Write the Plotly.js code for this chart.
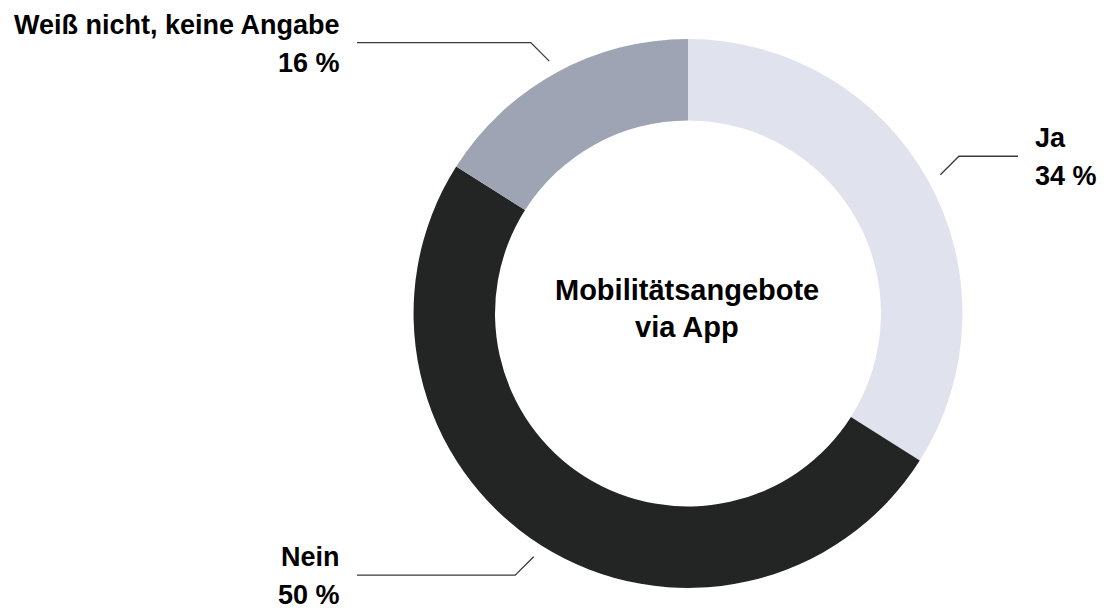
<!DOCTYPE html>
<html>
<head>
<meta charset="utf-8">
<script src="https://cdn.plot.ly/plotly-3.0.1.min.js"></script>
<style>
html,body{margin:0;padding:0;background:#fff;}
#chart{width:1119px;height:611px;}
</style>
</head>
<body>
<div id="chart"></div>
<script>
// Data
const categories = ["Ja", "Nein", "Weiß nicht, keine Angabe"];
const values = [34, 50, 16];
const valueLabels = ["34 %", "50 %", "16 %"];
const colors = ["#e0e2ed", "#232524", "#9ea4b3"];
const centerTitle = ["Mobilitätsangebote", "via App"];

// Layout constants (pixels)
const W = 1119, H = 611;
const cx = 688, cy = 313.5, R = 274.5;
const FONT = "'Liberation Sans', Arial, sans-serif";

const px = x => x / W;
const py = y => 1 - y / H;

const total = values.reduce((a, b) => a + b, 0);
const shapes = [];
const annotations = [];
let cum = 0;
values.forEach((v, i) => {
  const mid = (cum + v / 2) / total * 2 * Math.PI; // clockwise from top
  cum += v;
  const sx = Math.sin(mid), sy = -Math.cos(mid);
  const r0 = R + 13.5;
  const x0 = cx + r0 * sx, y0 = cy + r0 * sy;
  const dirX = sx >= 0 ? 1 : -1, dirY = sy >= 0 ? 1 : -1;
  const x1 = x0 + 18.5 * dirX, y1 = y0 + 18.5 * dirY;
  const x2 = dirX > 0 ? 1018 : 357;
  shapes.push({
    type: "path", xref: "paper", yref: "paper",
    path: `M ${px(x0)} ${py(y0)} L ${px(x1)} ${py(y1)} L ${px(x2)} ${py(y1)}`,
    line: {color: "#3a3a3a", width: 1.3}
  });
  const tx = dirX > 0 ? x2 + 15 : x2 - 15;
  const anchor = dirX > 0 ? "left" : "right";
  annotations.push({
    xref: "paper", yref: "paper", x: px(tx), y: py(y1 - 18),
    xanchor: anchor, yanchor: "middle", showarrow: false,
    text: "<b>" + categories[i] + "</b>",
    font: {family: FONT, size: 27, color: "#000"}
  });
  annotations.push({
    xref: "paper", yref: "paper", x: px(tx), y: py(y1 + 20),
    xanchor: anchor, yanchor: "middle", showarrow: false,
    text: "<b>" + valueLabels[i] + "</b>",
    font: {family: FONT, size: 27, color: "#000"}
  });
});

annotations.push({
  xref: "paper", yref: "paper", x: px(cx - 1), y: py(290),
  xanchor: "center", yanchor: "middle", showarrow: false,
  text: "<b>" + centerTitle[0] + "</b>",
  font: {family: FONT, size: 29, color: "#000"}
});
annotations.push({
  xref: "paper", yref: "paper", x: px(cx - 1), y: py(327),
  xanchor: "center", yanchor: "middle", showarrow: false,
  text: "<b>" + centerTitle[1] + "</b>",
  font: {family: FONT, size: 29, color: "#000"}
});

const trace = {
  type: "pie",
  labels: categories,
  values: values,
  sort: false,
  direction: "clockwise",
  rotation: 0,
  hole: 0.703,
  textinfo: "none",
  hoverinfo: "label+percent",
  marker: {colors: colors, line: {width: 0}},
  domain: {x: [px(cx - R), px(cx + R)], y: [py(cy + R), py(cy - R)]},
  showlegend: false
};

Plotly.newPlot("chart", [trace], {
  width: W, height: H,
  margin: {l: 0, r: 0, t: 0, b: 0},
  paper_bgcolor: "#fff",
  plot_bgcolor: "#fff",
  showlegend: false,
  shapes: shapes,
  annotations: annotations
}, {displayModeBar: false, staticPlot: true});
</script>
</body>
</html>
